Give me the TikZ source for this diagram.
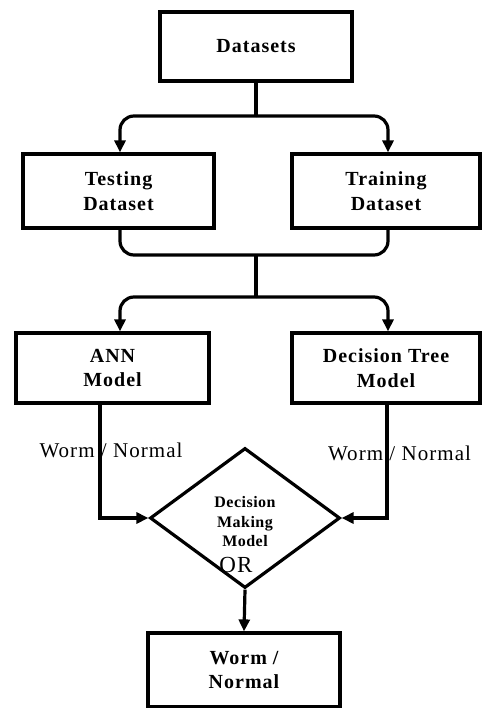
\documentclass[tikz,border=0pt]{standalone}
\usepackage{fontspec}
\setmainfont{Liberation Serif}
\newfontfamily\bxfont{Liberation Serif}[LetterSpace=5]
\newfontfamily\dmfont{Liberation Serif}[LetterSpace=3]
\newfontfamily\lbfont{Liberation Serif}[LetterSpace=5]
\usetikzlibrary{shapes.geometric,arrows.meta}
\begin{document}
\begin{tikzpicture}[x=1pt,y=-1pt,
  box/.style={draw,line width=3.2pt,inner sep=0pt,align=center,font=\bxfont\bfseries\fontsize{20}{24.5}\selectfont},
  conn/.style={line width=3.2pt},
  arr/.style={conn,-{Triangle[length=12pt,width=11pt]}},
  lbl/.style={font=\lbfont\fontsize{21}{24}\selectfont,inner sep=0pt},
  dmtext/.style={font=\dmfont\bfseries\fontsize{16}{19.5}\selectfont,align=center,inner sep=0pt}]
\useasboundingbox (0,0) rectangle (481,708);
\node[box,minimum width=192pt,minimum height=69pt] (ds) at (256,46.5) {Datasets};
\node[box,minimum width=191pt,minimum height=74pt] (test) at (118.5,191) {Testing\\Dataset};
\node[box,minimum width=188pt,minimum height=74pt] (train) at (386,191) {Training\\Dataset};
\node[box,minimum width=193pt,minimum height=70pt] (ann) at (112.5,368) {ANN\\Model};
\node[box,minimum width=188pt,minimum height=70pt] (dt) at (386,368) {Decision Tree\\Model};
\node[draw,diamond,line width=3.2pt,minimum width=190pt,minimum height=140pt,aspect=1.357,inner sep=0pt] (dm) at (245,518) {};
\node[dmtext] (dmt) at (245,522) {Decision\\Making\\Model};
\node[lbl,font=\lbfont\fontsize{23}{24}\selectfont] (or) at (236,565) {OR};
\node[box,minimum width=192pt,minimum height=74pt] (out) at (244,670) {Worm /\\Normal};
\coordinate (s1) at (256,116);
\coordinate (m1) at (256,255);
\coordinate (s2) at (256,297);
\draw[conn] (ds.south) -- (s1);
\draw[arr,rounded corners=14pt] (s1) -| ([xshift=1.5pt]test.north);
\draw[arr,rounded corners=14pt] (s1) -| ([xshift=2pt]train.north);
\draw[conn,rounded corners=14pt] ([xshift=1.5pt]test.south) |- (m1) -| ([xshift=2pt]train.south);
\draw[conn] (m1) -- (s2);
\draw[arr,rounded corners=14pt] (s2) -| ([xshift=7.5pt]ann.north);
\draw[arr,rounded corners=14pt] (s2) -| ([xshift=2pt]dt.north);
\draw[arr] ([xshift=-12.5pt]ann.south) |- (dm.west);
\draw[arr] ([xshift=1pt]dt.south) |- (dm.east);
\draw[arr] (dm.south) -- (out.north);
\node[lbl] (l1) at (111,450) {Worm / Normal};
\node[lbl] (l2) at (399.5,453) {Worm / Normal};
\end{tikzpicture}
\end{document}
